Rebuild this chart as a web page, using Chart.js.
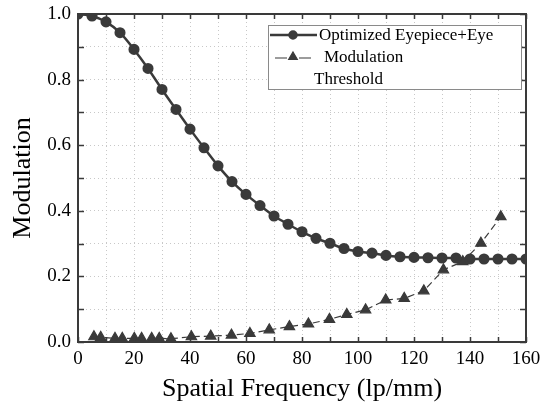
<!DOCTYPE html>
<html>
<head>
<meta charset="utf-8">
<script src="https://cdn.jsdelivr.net/npm/chart.js@4.4.1/dist/chart.umd.min.js"></script>
<style>
  html, body { margin: 0; padding: 0; background: #fff; }
  #wrap { width: 540px; height: 406px; }
</style>
</head>
<body>
<div id="wrap"><canvas id="mtfChart" width="540" height="406"></canvas></div>
<script>
// Optimized Eyepiece+Eye (MTF)
const eyeFreq = [0, 5, 10, 15, 20, 25, 30, 35, 40, 45, 50, 55, 60, 65, 70, 75, 80,
  85, 90, 95, 100, 105, 110, 115, 120, 125, 130, 135, 140, 145, 150, 155, 160];
const eyeMod = [1.0, 0.994, 0.976, 0.943, 0.892, 0.834, 0.770, 0.709, 0.649, 0.592, 0.537,
  0.489, 0.450, 0.416, 0.384, 0.359, 0.336, 0.316, 0.301, 0.285, 0.276, 0.271, 0.264,
  0.260, 0.258, 0.257, 0.256, 0.256, 0.253, 0.253, 0.253, 0.253, 0.253];

// Modulation threshold
const thrFreq = [5.7, 8.1, 13.2, 15.8, 20.1, 22.7, 26.3, 29.0, 33.2, 40.5, 47.4, 54.8, 61.4,
  68.3, 75.5, 82.3, 89.8, 96.0, 102.7, 109.9, 116.5, 123.5, 130.5, 137.4, 143.9, 151.0];
const thrMod = [0.016, 0.014, 0.011, 0.011, 0.011, 0.011, 0.011, 0.011, 0.010, 0.016, 0.018,
  0.021, 0.026, 0.037, 0.047, 0.055, 0.069, 0.084, 0.098, 0.128, 0.133, 0.156, 0.220,
  0.245, 0.301, 0.382];

const xTickLabels = ['0', '20', '40', '60', '80', '100', '120', '140', '160'];
const yTickLabels = ['0.0', '0.2', '0.4', '0.6', '0.8', '1.0'];

const seriesNames = ['Optimized Eyepiece+Eye', 'Modulation\nThreshold'];

const ink = '#3a3a3a';
const serif = '"Liberation Serif", "Times New Roman", serif';

// Rahmen mit nach innen zeigenden Ticks
const frameTicks = {
  id: 'frameTicks',
  afterDatasetsDraw(chart) {
    const { ctx, chartArea: a, scales: { x, y } } = chart;
    ctx.save();
    ctx.strokeStyle = ink;
    ctx.lineWidth = 1.5;
    ctx.beginPath();
    x.ticks.forEach(t => {
      const px = Math.round(x.getPixelForValue(t.value)) + 0.5;
      ctx.moveTo(px, a.top); ctx.lineTo(px, a.top + 5);
      ctx.moveTo(px, a.bottom); ctx.lineTo(px, a.bottom - 5);
    });
    y.ticks.forEach(t => {
      const py = Math.round(y.getPixelForValue(t.value)) + 0.5;
      ctx.moveTo(a.left, py); ctx.lineTo(a.left + 6, py);
      ctx.moveTo(a.right, py); ctx.lineTo(a.right - 6, py);
    });
    ctx.stroke();
    ctx.lineWidth = 2;
    ctx.strokeRect(a.left, a.top, a.width, a.height);
    ctx.restore();
  }
};

// Legende im Kasten oben rechts
const boxLegend = {
  id: 'boxLegend',
  afterDraw(chart) {
    const { ctx } = chart;
    const ds = chart.data.datasets;
    ctx.save();
    ctx.fillStyle = '#fff';
    ctx.fillRect(268, 25, 253, 64);
    ctx.strokeStyle = '#8a8a8a';
    ctx.lineWidth = 1;
    ctx.strokeRect(268.5, 25.5, 253, 64);

    // solid line + circle
    ctx.strokeStyle = ds[0].borderColor;
    ctx.fillStyle = ds[0].pointBackgroundColor;
    ctx.lineWidth = ds[0].borderWidth;
    ctx.beginPath(); ctx.moveTo(270, 35); ctx.lineTo(317, 35); ctx.stroke();
    Chart.helpers.drawPoint(ctx, { pointStyle: 'circle', radius: 3.5, rotation: 0, borderWidth: 1 }, 293, 35);

    // dashed line + triangle
    ctx.strokeStyle = ds[1].borderColor;
    ctx.fillStyle = ds[1].pointBackgroundColor;
    ctx.lineWidth = 1.2;
    ctx.beginPath();
    ctx.moveTo(275, 58); ctx.lineTo(287, 58);
    ctx.moveTo(299, 58); ctx.lineTo(311, 58);
    ctx.stroke();
    Chart.helpers.drawPoint(ctx, { pointStyle: 'triangle', radius: 5, rotation: 0, borderWidth: 1 }, 293, 57);

    ctx.fillStyle = '#000';
    ctx.font = '17px ' + serif;
    ctx.textBaseline = 'middle';
    ctx.fillText(seriesNames[0], 319, 36);
    const lines = seriesNames[1].split('\n');
    ctx.fillText(lines[0], 324, 58);
    ctx.fillText(lines[1], 314, 80);
    ctx.restore();
  }
};

const ctx = document.getElementById('mtfChart').getContext('2d');
new Chart(ctx, {
  type: 'line',
  data: {
    datasets: [
      {
        label: seriesNames[0],
        data: eyeFreq.map((f, i) => ({ x: f, y: eyeMod[i] })),
        borderColor: ink,
        backgroundColor: ink,
        pointBackgroundColor: ink,
        pointBorderColor: ink,
        borderWidth: 2.5,
        pointRadius: 4.3,
        pointStyle: 'circle',
        tension: 0.3,
        fill: false
      },
      {
        label: seriesNames[1],
        data: thrFreq.map((f, i) => ({ x: f, y: thrMod[i] })),
        borderColor: ink,
        backgroundColor: ink,
        pointBackgroundColor: ink,
        pointBorderColor: ink,
        borderWidth: 1.2,
        borderDash: [7, 4],
        pointRadius: 6,
        pointStyle: 'triangle',
        tension: 0,
        fill: false
      }
    ]
  },
  options: {
    responsive: false,
    animation: false,
    layout: { padding: { top: 14, right: 14, left: 0, bottom: 0 } },
    plugins: {
      legend: { display: false },
      tooltip: { enabled: false }
    },
    scales: {
      x: {
        type: 'linear',
        min: 0,
        max: 160,
        ticks: {
          stepSize: 10,
          padding: 6,
          color: '#000',
          font: { family: serif, size: 19 },
          maxRotation: 0,
          autoSkip: false,
          callback: v => xTickLabels.includes(String(v)) ? String(v) : ''
        },
        grid: { color: '#c8c8c8', lineWidth: 1, drawTicks: false },
        border: { display: false, dash: [1, 3] },
        title: {
          display: true,
          text: 'Spatial Frequency (lp/mm)',
          color: '#000',
          font: { family: serif, size: 26, lineHeight: 1.2 },
          padding: { top: 0, bottom: 1 }
        },
        afterFit: s => { s.height = 64; s.paddingLeft = 0; s.paddingRight = 0; }
      },
      y: {
        type: 'linear',
        min: 0,
        max: 1,
        ticks: {
          stepSize: 0.1,
          padding: 7,
          color: '#000',
          font: { family: serif, size: 19 },
          autoSkip: false,
          callback: v => {
            const s = v.toFixed(1);
            return yTickLabels.includes(s) ? s : '';
          }
        },
        grid: { color: '#c8c8c8', lineWidth: 1, drawTicks: false },
        border: { display: false, dash: [1, 3] },
        title: {
          display: true,
          text: 'Modulation',
          color: '#000',
          font: { family: serif, size: 26, lineHeight: 1.2 },
          padding: { top: 8, bottom: 0 }
        },
        afterFit: s => { s.width = 78; s.paddingTop = 0; s.paddingBottom = 0; }
      }
    }
  },
  plugins: [frameTicks, boxLegend]
});
</script>
</body>
</html>
